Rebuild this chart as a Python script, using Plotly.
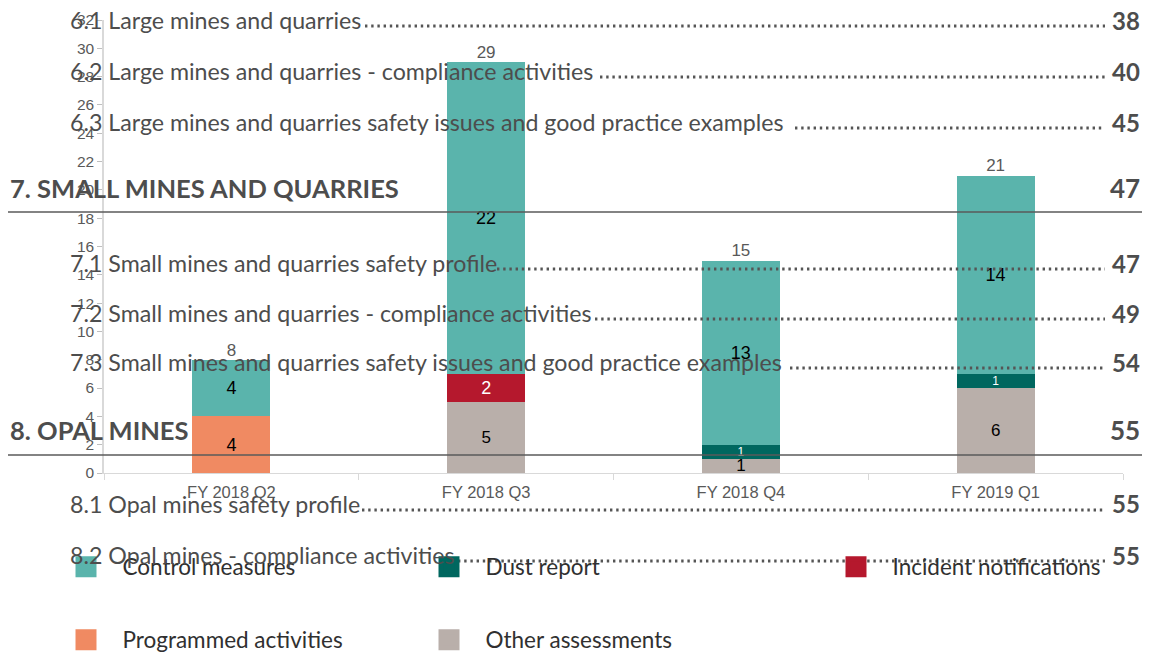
"""Quarterly compliance activity bars with the contents page printed over them."""

import plotly.graph_objects as go

# --- Chart data ---
quarters = ["FY 2018 Q2", "FY 2018 Q3", "FY 2018 Q4", "FY 2019 Q1"]
other_assessments = [None, 5, 1, 6]
programmed_activities = [4, None, None, None]
incident_notifications = [None, 2, None, None]
dust_report = [None, None, 1, 1]
control_measures = [4, 22, 13, 14]

# --- Contents page text (printed over the chart) ---
toc_titles = [
    "6.1 Large mines and quarries",
    "6.2 Large mines and quarries - compliance activities",
    "6.3 Large mines and quarries safety issues and good practice examples",
    "7. SMALL MINES AND QUARRIES",
    "7.1 Small mines and quarries safety profile",
    "7.2 Small mines and quarries - compliance activities",
    "7.3 Small mines and quarries safety issues and good practice examples",
    "8. OPAL MINES",
    "8.1 Opal mines safety profile",
    "8.2 Opal mines - compliance activities",
]
toc_pages = ["38", "40", "45", "47", "47", "49", "54", "55", "55", "55"]
toc_is_heading = [False, False, False, True, False, False, False, True, False, False]

# Colours
_CONTROL = "#5AB4AC"
_DUST = "#00675F"
_INCIDENT = "#B5182D"
_PROGRAMMED = "#F08A62"
_OTHER = "#B9AFAA"
_AXIS = "#D9D9D9"
_TICK_TEXT = "#595959"
_TOC_TEXT = "#4D4D4D"
_TICK_FONT = "Liberation Sans, Arial"

# Plot area in pixels (page is 1150 x 653)
W, H = 1150, 653
L, R, T, B = 104, 1123, 20, 473

# Layout positions for the contents lines (pixel rows / leader starts)
_toc_row_y = [20, 71, 122, 188, 263, 313, 362, 430, 504, 555]
_toc_dots_from = [365, 600, 795, None, 497, 595, 790, None, 362, 458]


def px_x(px):
    return (px - L) / (R - L)


def px_y(py):
    return (B - py) / (B - T)


series = [
    ("Other assessments", other_assessments, _OTHER, "black", 17),
    ("Programmed activities", programmed_activities, _PROGRAMMED, "black", 18),
    ("Incident notifications", incident_notifications, _INCIDENT, "white", 18),
    ("Dust report", dust_report, _DUST, "white", 12),
    ("Control measures", control_measures, _CONTROL, "black", 18),
]

fig = go.Figure()

for name, values, color, text_color, text_size in series:
    fig.add_trace(
        go.Bar(
            x=quarters,
            y=values,
            name=name,
            marker=dict(color=color, line=dict(width=0)),
            texttemplate="%{y}",
            textposition="inside",
            insidetextanchor="middle",
            constraintext="none",
            textangle=0,
            textfont=dict(family=_TICK_FONT, size=text_size, color=text_color),
            showlegend=False,
            hoverinfo="x+y+name",
        )
    )

totals = [sum(s[1][i] or 0 for s in series) for i in range(len(quarters))]
fig.add_trace(
    go.Scatter(
        x=quarters,
        y=totals,
        mode="text",
        text=[str(t) for t in totals],
        textposition="top center",
        textfont=dict(family=_TICK_FONT, size=17, color=_TICK_TEXT),
        showlegend=False,
        hoverinfo="skip",
        cliponaxis=False,
    )
)

# Legend entries: one small legend per entry so the grid matches the page
legend_order = [
    ("Control measures", _CONTROL, "legend", 86.5, 567),
    ("Dust report", _DUST, "legend2", 449.5, 567),
    ("Incident notifications", _INCIDENT, "legend3", 856.5, 567),
    ("Programmed activities", _PROGRAMMED, "legend4", 86.5, 640),
    ("Other assessments", _OTHER, "legend5", 449.5, 640),
]
legend_layouts = {}
for name, color, legend_id, lx, ly in legend_order:
    fig.add_trace(
        go.Scatter(
            x=[None],
            y=[None],
            mode="markers",
            marker=dict(size=16, symbol="square", color=color, line=dict(color=color, width=5)),
            name=name,
            legend=legend_id,
            showlegend=True,
        )
    )
    legend_layouts[legend_id] = dict(
        x=px_x(lx - 37),
        y=px_y(ly),
        xanchor="left",
        yanchor="middle",
        itemwidth=63,
        bgcolor="rgba(0,0,0,0)",
        borderwidth=0,
        font=dict(family="Lato", size=22.5, color="#303030"),
    )

# --- Contents page overlay ---
for i, title in enumerate(toc_titles):
    heading = toc_is_heading[i]
    y = px_y(_toc_row_y[i])
    fig.add_annotation(
        text=f"<b>{title}</b>" if heading else title,
        x=px_x(8 if heading else 68),
        y=y,
        xref="paper",
        yref="paper",
        xanchor="left",
        yanchor="middle",
        showarrow=False,
        font=dict(family="Lato", size=25.5 if heading else 23.2, color=_TOC_TEXT),
    )
    fig.add_annotation(
        text=f"<b>{toc_pages[i]}</b>",
        x=px_x(1142),
        y=y,
        xref="paper",
        yref="paper",
        xanchor="right",
        yanchor="middle",
        showarrow=False,
        font=dict(family="Lato", size=26 if heading else 24, color=_TOC_TEXT),
    )
    if _toc_dots_from[i] is not None:
        dy = px_y(_toc_row_y[i] + 6)
        fig.add_shape(
            type="line",
            xref="paper",
            yref="paper",
            x0=px_x(_toc_dots_from[i]),
            x1=px_x(1105),
            y0=dy,
            y1=dy,
            line=dict(color="#555555", width=2.8, dash="2.4px,3.8px"),
        )

for rule_y in (212, 455):
    fig.add_shape(
        type="line",
        xref="paper",
        yref="paper",
        x0=px_x(8),
        x1=px_x(1142),
        y0=px_y(rule_y),
        y1=px_y(rule_y),
        line=dict(color="#5A5A5A", width=1.5),
    )

# --- Layout ---
fig.update_layout(
    width=W,
    height=H,
    margin=dict(l=L, r=W - R, t=T, b=H - B, pad=0, autoexpand=False),
    paper_bgcolor="white",
    plot_bgcolor="white",
    barmode="stack",
    bargap=0.694,
    xaxis=dict(
        type="category",
        showline=True,
        linecolor=_AXIS,
        linewidth=1,
        ticks="outside",
        tickson="boundaries",
        ticklen=6,
        tickcolor=_AXIS,
        ticklabelstandoff=4,
        showgrid=False,
        tickfont=dict(family=_TICK_FONT, size=16.5, color=_TICK_TEXT),
    ),
    yaxis=dict(
        range=[0, 32],
        dtick=2,
        showline=True,
        linecolor=_AXIS,
        linewidth=1.5,
        ticks="outside",
        ticklen=5,
        tickcolor="#BFBFBF",
        showgrid=False,
        zeroline=False,
        tickfont=dict(family=_TICK_FONT, size=15.5, color=_TICK_TEXT),
    ),
    **legend_layouts,
)

# the page's default body margin would shift the 1150x653 figure
fig.write_html(
    "out.html",
    config={"displayModeBar": False},
    post_script="document.body.style.margin = '0px';",
)
